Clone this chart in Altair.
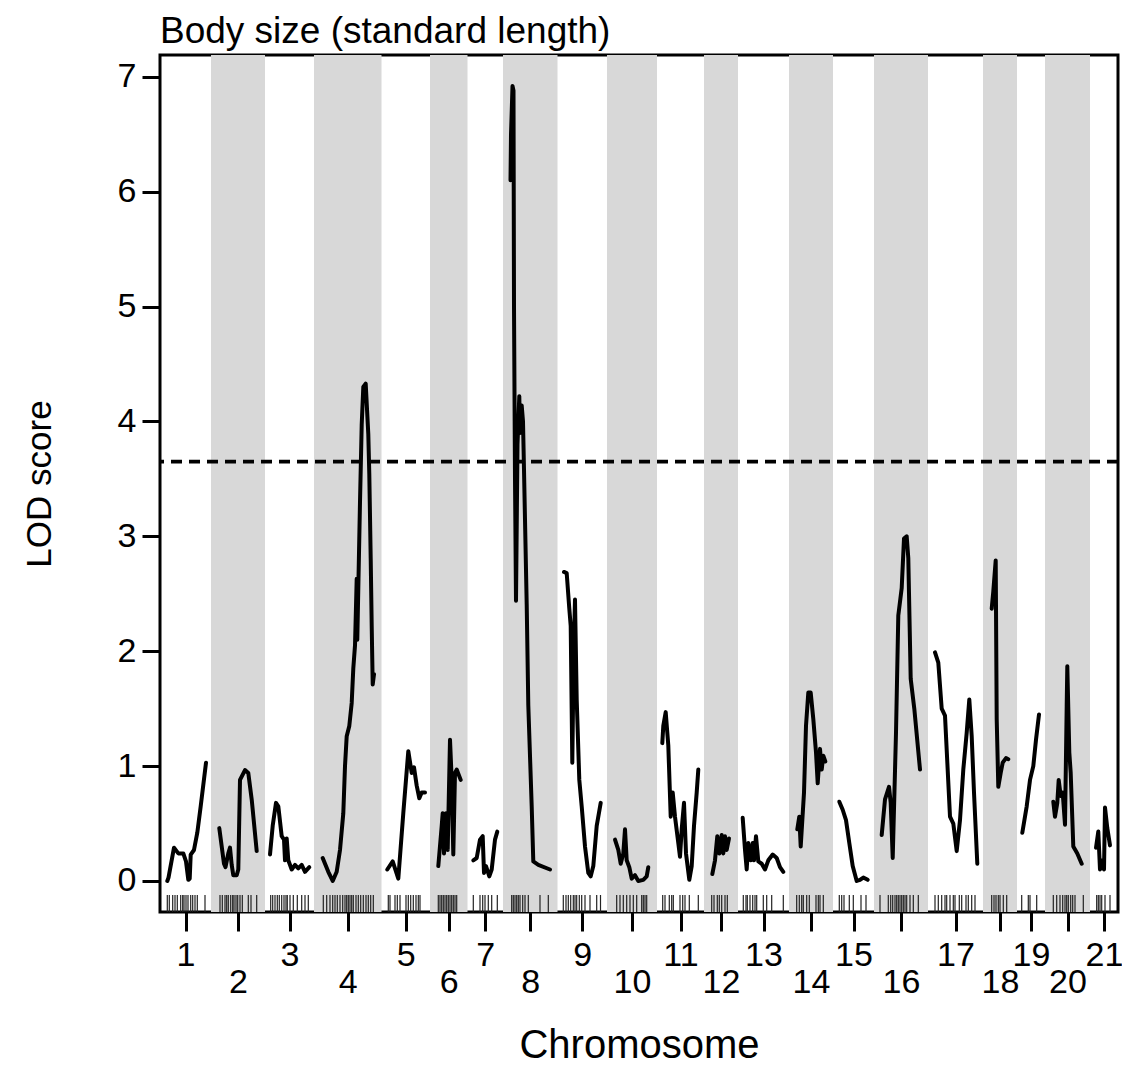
import altair as alt
import pandas as pd

FONT = "Liberation Sans"

# ---- chromosome layout (lengths in cM, drawn as alternating bands) ----
chrom_names = [str(i) for i in range(1, 22)]
chrom_lengths = [51, 54, 49, 67.5, 48.5, 37.5, 35.5, 54.5, 49.5, 50, 47,
                 34, 51, 44, 41, 54, 55, 34, 28, 45, 28]

# ---- LOD profile per chromosome: positions (cM within chromosome) and LOD ----
lod_pos = {
    1: [7.3, 8.5, 14, 18.3, 23.3, 26, 28.3, 29.7, 30.7, 34, 37.3, 40.7, 46],
    2: [8.3, 13, 14.5, 17.3, 19, 20.7, 22.3, 25.7, 27.3, 29, 34, 37.3, 40.7, 45.7],
    3: [5, 7.7, 11, 13.3, 16.7, 19, 20, 21.7, 23.3, 26.7, 30, 33.3, 36.7, 40, 44.3],
    4: [8.7, 14.3, 18.7, 22.7, 26, 29.3, 31, 32.7, 35.3, 37.7, 39.3, 41, 42.7, 43.3,
        46, 47.7, 49.3, 51.7, 54.3, 55.3, 56.7, 57.7, 58.7, 60],
    5: [5.8, 11.2, 16.8, 21.8, 26.8, 30.2, 32.5, 35.2, 37.8, 40.2, 43.5],
    6: [8.3, 11.7, 12.7, 14, 16, 17.7, 20, 21.7, 23.3, 25, 26.7, 30.7],
    7: [5.8, 9.2, 12.5, 15.2, 16.5, 18.5, 21.8, 24.2, 27.5, 29.8],
    8: [7.5, 8, 9.5, 10.5, 11, 12, 13, 14.5, 16.3, 17, 18.7, 20, 21, 23.7, 25.3,
        28.7, 30.3, 35.3, 47],
    9: [6.5, 9.2, 11.8, 13.2, 14.8, 16.2, 17.5, 19.2, 21.8, 24.2, 27.5, 30.8, 33.2,
        35.8, 39.2, 43.2],
    10: [8, 11.3, 13.7, 16.3, 18, 19.7, 22.3, 24.7, 28, 31.3, 36.3, 39.7, 41.3],
    11: [5.3, 6.3, 8.7, 11.3, 13.7, 15.7, 18, 21.3, 23, 24.7, 27, 29, 32.3, 34.7,
         37, 39.7, 41.3],
    12: [8.3, 11, 13.3, 15.3, 17.7, 19.3, 21, 22.7, 25],
    13: [4.7, 7, 8.7, 10.3, 12.7, 14.7, 16, 18, 20.3, 23.7, 27, 30.3, 34.7, 38.7, 42, 45.3],
    14: [8.3, 10.3, 11.7, 15, 17, 19.3, 21.7, 24.3, 27, 28.7, 31, 32.7, 34.3, 36.3],
    15: [6.3, 9.7, 13, 16.3, 19.7, 23.7, 27, 30.3, 34.7],
    16: [7.7, 11, 15, 16.7, 18.7, 22, 24.3, 27.7, 30, 32.7, 34.3, 36.7, 40.3, 46],
    17: [7, 10.3, 13.7, 17, 22, 25.3, 28.7, 32, 35.3, 38.7, 41.3, 43.7, 46, 49.3],
    18: [8.7, 10.3, 12.7, 13.7, 15.3, 17.7, 19.7, 23, 25.3],
    19: [5.3, 9.7, 13, 16.3, 19, 22],
    20: [8.3, 10, 12.3, 13.7, 15.7, 17.7, 20, 21.7, 22.3, 24.3, 25.7, 28.3, 32.3, 36.7],
    21: [6, 8.3, 10, 12.7, 14, 15, 17.3, 20],
}
lod_val = {
    1: [0.0, 0.03, 0.29, 0.24, 0.24, 0.17, 0.01, 0.02, 0.23, 0.27, 0.42, 0.65, 1.03],
    2: [0.46, 0.15, 0.12, 0.24, 0.29, 0.14, 0.05, 0.05, 0.10, 0.88, 0.965, 0.94, 0.71, 0.26],
    3: [0.23, 0.48, 0.68, 0.65, 0.39, 0.36, 0.18, 0.37, 0.18, 0.10, 0.14, 0.11, 0.14, 0.08, 0.12],
    4: [0.20, 0.08, 0.0, 0.08, 0.27, 0.59, 1.0, 1.26, 1.35, 1.55, 1.85, 2.05, 2.63, 2.1,
        3.30, 3.97, 4.30, 4.33, 3.89, 3.54, 2.81, 2.22, 1.71, 1.80],
    5: [0.10, 0.17, 0.02, 0.59, 1.13, 0.94, 0.99, 0.83, 0.72, 0.77, 0.77],
    6: [0.13, 0.48, 0.59, 0.24, 0.59, 0.27, 1.23, 0.88, 0.23, 0.94, 0.97, 0.88],
    7: [0.18, 0.20, 0.36, 0.39, 0.07, 0.13, 0.04, 0.10, 0.36, 0.43],
    8: [6.1, 6.5, 6.92, 6.88, 5.0, 3.5, 2.44, 3.8, 4.22, 3.90, 4.14, 4.0, 3.58, 2.41,
        1.53, 0.65, 0.17, 0.14, 0.10],
    9: [2.69, 2.68, 2.37, 2.22, 1.03, 2.0, 2.45, 1.58, 0.88, 0.65, 0.30, 0.07, 0.04,
        0.13, 0.48, 0.68],
    10: [0.36, 0.27, 0.15, 0.24, 0.45, 0.18, 0.12, 0.02, 0.05, 0.0, 0.01, 0.04, 0.12],
    11: [1.20, 1.35, 1.47, 1.18, 0.56, 0.77, 0.56, 0.33, 0.21, 0.45, 0.68, 0.24, 0.01,
         0.13, 0.48, 0.77, 0.97],
    12: [0.06, 0.18, 0.39, 0.24, 0.40, 0.24, 0.39, 0.27, 0.37],
    13: [0.55, 0.27, 0.10, 0.33, 0.18, 0.33, 0.18, 0.39, 0.17, 0.15, 0.10, 0.18, 0.23,
         0.20, 0.12, 0.08],
    14: [0.45, 0.56, 0.30, 0.77, 1.35, 1.64, 1.64, 1.41, 1.12, 0.85, 1.15, 0.97, 1.09, 1.04],
    15: [0.69, 0.62, 0.53, 0.33, 0.13, 0.0, 0.01, 0.03, 0.01],
    16: [0.40, 0.71, 0.82, 0.68, 0.20, 1.29, 2.31, 2.55, 2.98, 3.0, 2.81, 1.76, 1.50, 0.97],
    17: [1.99, 1.90, 1.50, 1.44, 0.56, 0.50, 0.26, 0.53, 0.97, 1.29, 1.58, 1.26, 0.77, 0.15],
    18: [2.37, 2.52, 2.79, 1.41, 0.82, 0.94, 1.03, 1.07, 1.06],
    19: [0.42, 0.65, 0.88, 1.0, 1.23, 1.45],
    20: [0.69, 0.56, 0.68, 0.88, 0.74, 0.77, 0.49, 1.52, 1.87, 1.12, 0.94, 0.30, 0.24, 0.15],
    21: [0.29, 0.43, 0.10, 0.18, 0.10, 0.64, 0.46, 0.31],
}

# ---- genetic markers (cM within chromosome) ----
marker_pos = {
    1: [7.3, 9.3, 12.7, 15, 17.3, 20.7, 22.7, 24, 26, 28, 30.7, 32.7, 35, 37.3, 45],
    2: [9, 11.3, 14, 15.7, 17.3, 19.7, 21.7, 23, 25, 26.7, 29, 31.3, 37.3, 40, 45.7],
    3: [5.7, 7.7, 10, 12.3, 14.3, 16.7, 19, 21, 22.3, 25, 28.3, 32.3, 36.7, 40, 43.3],
    4: [9.3, 12.7, 16, 18.7, 21, 23.3, 26, 28.7, 31, 32.7, 34.3, 36, 37.7, 39.3, 42,
        44.3, 46.7, 49.3, 52, 54.3, 56.7, 59.3],
    5: [6.8, 8.5, 13.5, 15.8, 18.5, 24.5, 26.8, 29.2, 31.8, 34.5, 36.8, 38.5],
    6: [8.3, 10, 11.7, 13.3, 15, 16.7, 18.3, 20, 21.7, 23.3, 25, 26.7],
    7: [5.8, 12.5, 15.2, 17.5, 20.8, 24.2, 29.8],
    8: [8.7, 10.3, 12, 13.7, 15.3, 17, 19.7, 22, 25.3, 37, 45.3],
    9: [5.8, 8.5, 10.8, 13.2, 15.8, 17.5, 19.2, 21.8, 24.2, 27.5, 32.5, 39.2, 43],
    10: [9.7, 13, 16.3, 19.7, 23, 26.3, 29.7, 34.7, 36.3, 38, 39.7],
    11: [5.7, 8, 12.3, 14.7, 16.3, 23, 25.7, 28, 32.3, 41.3],
    12: [7.7, 10, 13.3, 15.3, 17.7, 21, 23.3],
    13: [5.3, 8, 9.3, 12, 14.7, 17, 18.7, 25.3, 28.7, 33.7, 45.3],
    14: [7.7, 10.3, 12.7, 14.3, 17.7, 20.3, 27, 29.3, 31, 34.3],
    15: [6.3, 8.7, 11, 16.3, 20.3, 28, 33],
    16: [6, 14.3, 16.7, 18.7, 21, 22.7, 24.3, 26, 27.7, 29.3, 31, 32.7, 36, 39.3, 44.3],
    17: [7, 10.3, 13.7, 17, 18.7, 22, 25.3, 27, 31.3, 33.7, 38, 40.3, 43.7, 47],
    18: [8.7, 11, 13, 15.3, 17, 20.3, 23.7],
    19: [4.7, 11.3, 13, 19.7],
    20: [8.3, 11.7, 15, 17.7, 20, 21.7, 23.3, 25.7, 27.7, 30, 38.3],
    21: [6.7, 8.3, 10, 11.7, 15, 20],
}

threshold = 3.65
y_ticks = [0, 1, 2, 3, 4, 5, 6, 7]
y_domain = [-0.27, 7.19]

# ---- build tables ----
starts, centers = [], []
acc = 0.0
for L in chrom_lengths:
    starts.append(acc)
    centers.append(round(acc + L / 2, 2))
    acc += L
total = acc

bands_df = pd.DataFrame({
    "chrom": chrom_names,
    "start": starts,
    "end": [s + L for s, L in zip(starts, chrom_lengths)],
})
bands_df = bands_df[[i % 2 == 1 for i in range(len(chrom_names))]]

rows = []
k = 0
for ci, name in enumerate(chrom_names, start=1):
    for p, v in zip(lod_pos[ci], lod_val[ci]):
        rows.append({"chrom": name, "pos": starts[ci - 1] + p, "lod": v, "ord": k})
        k += 1
lines_df = pd.DataFrame(rows)

mrows = []
for ci, name in enumerate(chrom_names, start=1):
    for p in marker_pos[ci]:
        mrows.append({"chrom": name, "pos": starts[ci - 1] + p})
markers_df = pd.DataFrame(mrows)

x_scale = alt.Scale(domain=[0, total], nice=False, zero=False)
y_scale = alt.Scale(domain=y_domain, nice=False, zero=False)

centers_js = "[" + ",".join(str(c) for c in centers) + "]"
idx = f"indexof({centers_js}, datum.value)"
# odd chromosomes on the first row, even chromosomes dropped to a second line
label_expr = f"({idx}) % 2 == 1 ? ['', '' + (({idx}) + 1)] : '' + (({idx}) + 1)"

x_axis = alt.Axis(
    values=centers,
    labelExpr=label_expr,
    labelLineHeight=27,
    labelPadding=7,
    labelAngle=0,
    labelOverlap=False,
    labelFontSize=34,
    labelFont=FONT,
    labelColor="black",
    tickSize=19,
    tickWidth=3,
    tickColor="black",
    domain=False,
    grid=False,
    title="Chromosome",
    titleFontSize=40,
    titleFont=FONT,
    titleFontWeight="normal",
    titleColor="black",
    titlePadding=26,
)

y_axis = alt.Axis(
    values=y_ticks,
    format="d",
    labelFontSize=34,
    labelFont=FONT,
    labelColor="black",
    labelPadding=6,
    tickSize=18,
    tickWidth=3,
    tickColor="black",
    domain=False,
    grid=False,
    title="LOD score",
    titleFontSize=35,
    titleFont=FONT,
    titleFontWeight="normal",
    titleColor="black",
    titlePadding=60,
)

bands = alt.Chart(bands_df).mark_rect(color="#d8d8d8").encode(
    x=alt.X("start:Q", scale=x_scale, axis=x_axis),
    x2="end:Q",
)

rug = alt.Chart(markers_df).mark_rule(color="#222222", strokeWidth=1.2).encode(
    x=alt.X("pos:Q", scale=x_scale),
    y=alt.value(840),
    y2=alt.value(857),
)

thr = alt.Chart(pd.DataFrame({"lod": [threshold]})).mark_rule(
    color="black", strokeWidth=3.6, strokeDash=[11, 7]
).encode(
    y=alt.Y("lod:Q", scale=y_scale),
)

lines = alt.Chart(lines_df).mark_line(
    color="black", strokeWidth=4, strokeJoin="round", strokeCap="round"
).encode(
    x=alt.X("pos:Q", scale=x_scale),
    y=alt.Y("lod:Q", scale=y_scale, axis=y_axis),
    detail="chrom:N",
    order="ord:Q",
)

chart = alt.layer(bands, rug, thr, lines).properties(
    width=958,
    height=857,
    autosize=alt.AutoSizeParams(type="none"),
    padding={"left": 152, "top": 47, "right": 4, "bottom": 156},
    title=alt.TitleParams(
        "Body size (standard length)",
        anchor="start",
        frame="group",
        fontSize=37,
        font=FONT,
        fontWeight="normal",
        color="black",
        offset=4,
    ),
).configure(
    background="white"
).configure_view(
    stroke="black", strokeWidth=3
)

chart.save("out.html", embed_options={"renderer": "svg", "actions": False})
